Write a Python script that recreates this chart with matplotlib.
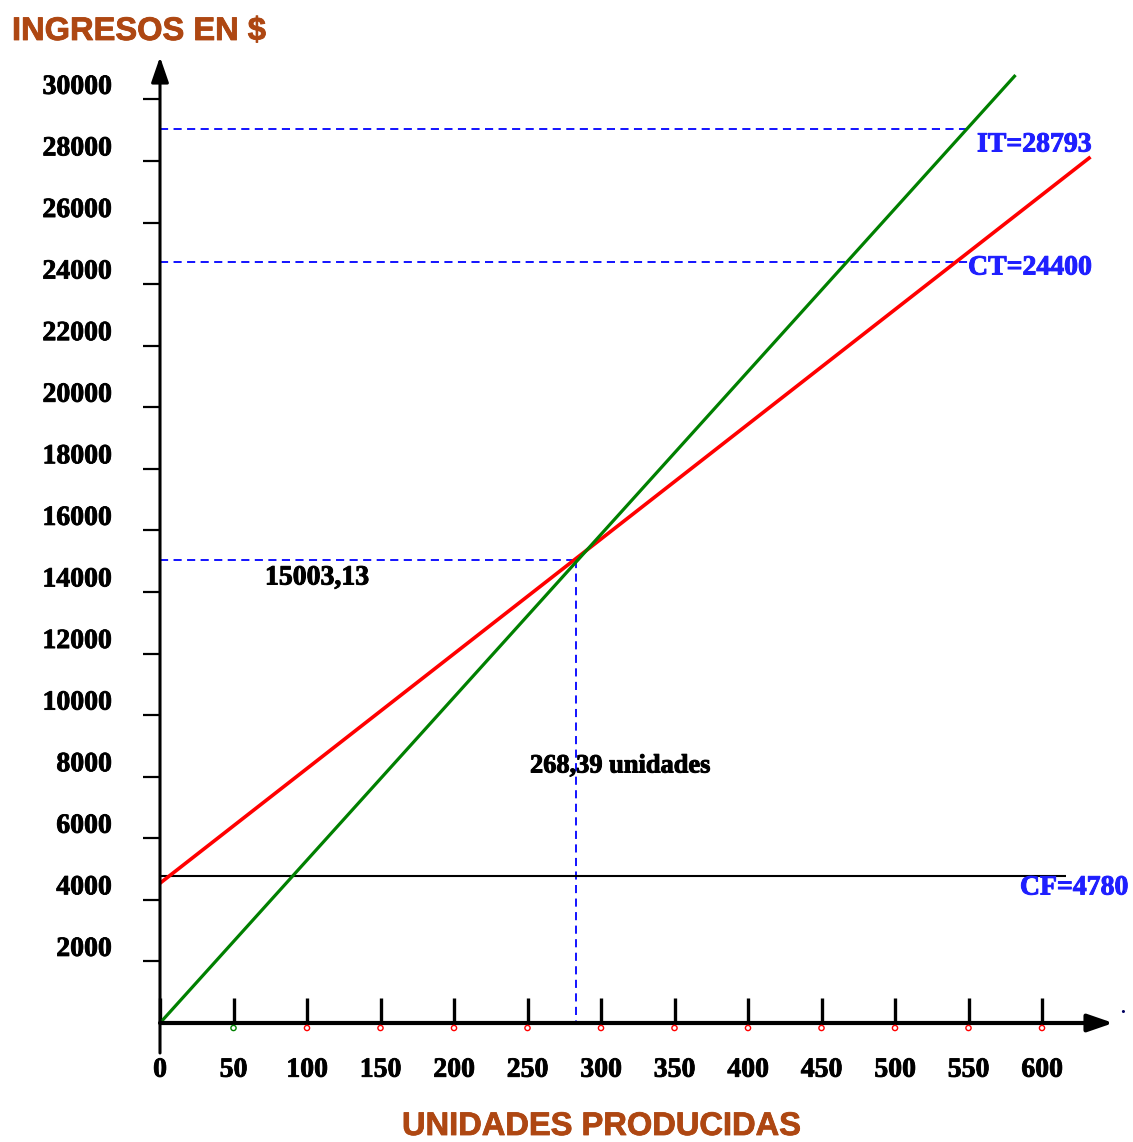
import matplotlib
matplotlib.use("Agg")
import matplotlib.pyplot as plt
import matplotlib.patheffects as pe
from matplotlib.transforms import ScaledTranslation

# ---------------- data ----------------
x_ticks = [0, 50, 100, 150, 200, 250, 300, 350, 400, 450, 500, 550, 600]
y_ticks = [2000, 4000, 6000, 8000, 10000, 12000, 14000, 16000, 18000,
           20000, 22000, 24000, 26000, 28000, 30000]

it_x = [0, 582]          # ingreso total (green)
it_y = [0, 30790]
ct_x = [0, 633]          # costo total (red)
ct_y = [4540, 28130]
cf_x = [0, 616]          # costo fijo (black)
cf_y = [4775, 4775]

it_level, it_level_x = 29040, 550
ct_level, ct_level_x = 24710, 550
be_x, be_y = 283, 15040

lbl_it = "IT=28793"
lbl_ct = "CT=24400"
lbl_cf = "CF=4780"
lbl_be_y = "15003,13"
lbl_be_x = "268,39 unidades"
title_y = "INGRESOS EN $"
title_x = "UNIDADES PRODUCIDAS"

# ---------------- style ----------------
plt.rcParams["font.family"] = ["Liberation Serif", "DejaVu Serif"]
plt.rcParams["font.weight"] = "bold"

W, H = 1133, 1142
fig = plt.figure(figsize=(W / 100, H / 100), dpi=100)
ax = fig.add_axes([160 / W, (H - 1023) / H, 970.2 / W, 985.2 / H])
ax.set_xlim(0, 660)
ax.set_ylim(0, 32000)
for s in ax.spines.values():
    s.set_visible(False)
ax.patch.set_visible(False)

brown = "#AE4712"
blue = "#1F1FFF"


def heavy(c, w=0.7):
    return [pe.withStroke(linewidth=w, foreground=c)]


# axes with arrows
arrow_kw = dict(arrowstyle="-|>,head_length=1.1,head_width=0.38",
                mutation_scale=14, lw=2.2, color="black", shrinkA=0, shrinkB=0)
ax.annotate("", xy=(0, 31377), xytext=(0, -974), arrowprops=arrow_kw,
            annotation_clip=False, zorder=5)
ax.annotate("", xy=(648.5, 0), xytext=(0, 0),
            arrowprops=dict(arrow_kw, lw=3), annotation_clip=False, zorder=5)
ax.text(653, 180, ".", color="#000060", fontsize=14, ha="left", va="bottom",
        clip_on=False)

# ticks
ax.set_xticks(x_ticks)
ax.set_xticklabels([str(v) for v in x_ticks])
ax.set_yticks(y_ticks)
ax.set_yticklabels([str(v) for v in y_ticks])
ax.tick_params(axis="x", direction="in", length=18, width=2.4, pad=25,
               labelsize=20, colors="black")
ax.tick_params(axis="y", direction="out", length=12, width=1.6, pad=23,
               labelsize=20, colors="black")
off = ScaledTranslation(0, 15 / 100, fig.dpi_scale_trans)
for lab in ax.get_yticklabels():
    lab.set_transform(lab.get_transform() + off)
    lab.set_path_effects(heavy("black", 0.6))
for lab in ax.get_xticklabels():
    lab.set_path_effects(heavy("black", 0.6))

# small markers under the x ticks
mk_off = ScaledTranslation(0, -5 / 100, fig.dpi_scale_trans)
mk_colors = ["green"] + ["red"] * (len(x_ticks) - 2)
ax.scatter(x_ticks[1:], [0] * (len(x_ticks) - 1), s=14, facecolors="none",
           edgecolors=mk_colors, linewidths=1.0,
           transform=ax.transData + mk_off, clip_on=False, zorder=6)

# reference dashed lines
dash = (0, (4.5, 3.0))
ax.plot([0, it_level_x], [it_level, it_level], color="blue", lw=1.3, ls=dash)
ax.plot([0, ct_level_x], [ct_level, ct_level], color="blue", lw=1.3, ls=dash)
ax.plot([0, be_x], [be_y, be_y], color="blue", lw=1.3, ls=dash)
ax.plot([be_x, be_x], [be_y, 0], color="blue", lw=1.3, ls=dash)

# main lines
ax.plot(cf_x, cf_y, color="black", lw=1.5, solid_capstyle="butt", zorder=3)
ax.plot(ct_x, ct_y, color="#FF0000", lw=2.6, solid_capstyle="butt", zorder=4, clip_on=False)
ax.plot(it_x, it_y, color="#008000", lw=2.3, solid_capstyle="butt", zorder=4, clip_on=False)

# labels
ax.text(555.8, 28518, lbl_it, color=blue, fontsize=20, ha="left", va="center",
        path_effects=heavy(blue))
ax.text(549.7, 24523, lbl_ct, color=blue, fontsize=20, ha="left", va="center",
        path_effects=heavy(blue))
ax.text(585, 4385, lbl_cf, color=blue, fontsize=20, ha="left", va="center",
        clip_on=False, path_effects=heavy(blue))
ax.text(71.4, 14454, lbl_be_y, color="black", fontsize=20, ha="left", va="center",
        path_effects=heavy("black"))
ax.text(251.7, 8348, lbl_be_x, color="black", fontsize=19, ha="left", va="center",
        path_effects=heavy("black"))

fig.text(12 / W, 1 - 40 / H, title_y, color=brown, fontsize=23.5,
         family="Liberation Sans", weight="bold", ha="left", va="baseline",
         path_effects=heavy(brown, 0.6))
fig.text(402 / W, 1 - 1135 / H, title_x, color=brown, fontsize=23.5,
         family="Liberation Sans", weight="bold", ha="left", va="baseline",
         path_effects=heavy(brown, 0.6))

fig.savefig("out.png", dpi=100)
